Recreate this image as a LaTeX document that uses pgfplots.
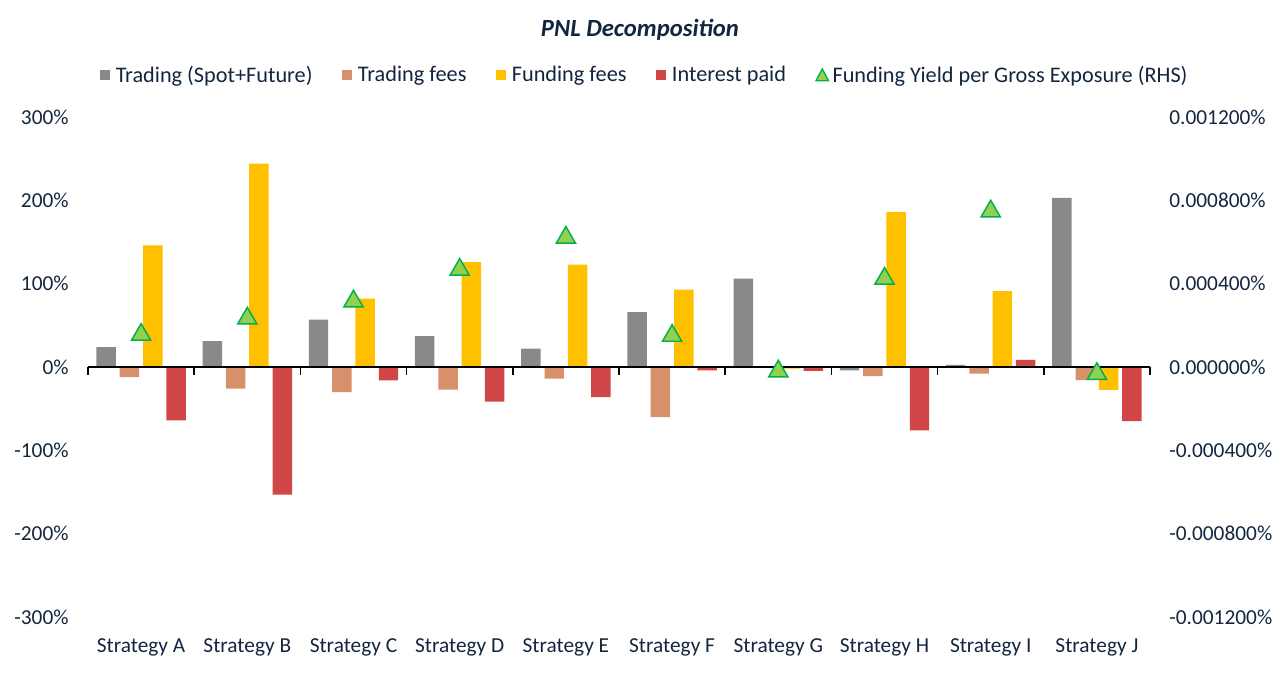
\documentclass[border=0pt]{standalone}
\usepackage{pgfplots}
\pgfplotsset{compat=1.18}
\usepackage{pgfplotstable}
\usepackage{fontspec}
\setmainfont{Carlito}
\definecolor{txt}{HTML}{12263F}
\definecolor{cGray}{HTML}{898989}
\definecolor{cFee}{HTML}{D8906A}
\definecolor{cFund}{HTML}{FFC000}
\definecolor{cInt}{HTML}{D14646}
\definecolor{cTriF}{HTML}{92D050}
\definecolor{cTriE}{HTML}{00B050}

\pgfplotstableread{
idx trade fee fund int yield
0 24 -12 146 -64 0.000168
1 31 -26 244 -153 0.000246
2 57 -30 82 -16 0.000328
3 37 -27 126 -41.5 0.000480
4 22 -14 123 -36 0.000634
5 66 -60 93 -4 0.000163
6 106 -1 -2 -4.5 -0.000008
7 -4 -11 186 -76 0.000437
8 2.5 -8 91 8.5 0.000760
9 203 -15.6 -27.5 -65 -0.000020
}\data

\pgfplotsset{
  sqlegend/.style={legend image code/.code={\fill[##1] (0pt,-3.9pt) rectangle (7.8pt,3.9pt); \path (10pt,0pt);}},
}

\begin{document}
\begin{tikzpicture}[font=\fontsize{16}{19}\selectfont, text=txt]
\path[use as bounding box] (-66pt,-41.25pt) rectangle (894pt,462.75pt);
\begin{axis}[
  at={(0,0)}, anchor=south west, scale only axis,
  width=796.5pt, height=375pt,
  xmin=-0.5, xmax=9.5, ymin=-300, ymax=300,
  ybar=2.9pt, bar width=14.6pt,
  clip=false,
  axis line style={draw=none},
  major tick length=0pt,
  xtick={0,...,9},
  xticklabels={Strategy A,Strategy B,Strategy C,Strategy D,Strategy E,Strategy F,Strategy G,Strategy H,Strategy I,Strategy J},
  ytick={-300,-200,-100,0,100,200,300},
  yticklabels={-300\%,-200\%,-100\%,0\%,100\%,200\%,300\%},
  tick label style={text=txt, font=\fontsize{16}{19}\selectfont},
  yticklabel style={xshift=-11pt},
  xticklabel style={yshift=-13pt},
  every axis plot/.append style={draw=none},
  legend columns=-1,
  legend style={at={(axis description cs:0.5245,1.084)}, anchor=center, draw=none, fill=none,
    font=\fontsize{16.7}{19}\selectfont, text=txt,
    /tikz/every even column/.append style={column sep=20pt}},
]
\addplot[fill=cGray, sqlegend] table[x=idx,y=trade]{\data};
\addlegendentry{Trading (Spot+Future)}
\addplot[fill=cFee, sqlegend] table[x=idx,y=fee]{\data};
\addlegendentry{Trading fees}
\addplot[fill=cFund, sqlegend] table[x=idx,y=fund]{\data};
\addlegendentry{Funding fees}
\addplot[fill=cInt, sqlegend] table[x=idx,y=int]{\data};
\addlegendentry{Interest paid}
\addlegendimage{legend image code/.code={\filldraw[fill=cTriF, draw=cTriE, line width=1pt, line join=miter] (0pt,-4.3pt) -- (9.4pt,-4.3pt) -- (4.7pt,4.6pt) -- cycle; \path (10.4pt,0pt);}}
\addlegendentry{Funding Yield per Gross Exposure (RHS)}
\draw[black, line width=1.3pt] (axis cs:-0.5,0) -- (axis cs:9.5,0);
\pgfplotsinvokeforeach{-0.5,0.5,1.5,2.5,3.5,4.5,5.5,6.5,7.5,8.5,9.5}{
  \draw[black, line width=1.3pt] (axis cs:#1,0) -- ([yshift=-6pt]axis cs:#1,0);
}
\end{axis}
\begin{axis}[
  at={(0,0)}, anchor=south west, scale only axis,
  width=796.5pt, height=375pt,
  xmin=-0.5, xmax=9.5, ymin=-0.0012, ymax=0.0012,
  clip=false,
  axis line style={draw=none},
  major tick length=0pt,
  axis y line*=right,
  axis x line=none,
  scaled y ticks=false,
  ytick={-0.0012,-0.0008,-0.0004,0,0.0004,0.0008,0.0012},
  yticklabels={-0.001200\%,-0.000800\%,-0.000400\%,0.000000\%,0.000400\%,0.000800\%,0.001200\%},
  tick label style={text=txt, font=\fontsize{16}{19}\selectfont},
  yticklabel style={xshift=11pt},
]
\addplot[only marks, mark=triangle*, mark size=8.3pt,
  mark options={fill=cTriF, draw=cTriE, line width=1.1pt, yshift=-2pt}]
  table[x=idx,y=yield]{\data};
\end{axis}
\node[font=\fontsize{18.5}{21}\selectfont\bfseries\itshape, text=txt] at (414pt,440.25pt) {PNL Decomposition};
\end{tikzpicture}
\end{document}
